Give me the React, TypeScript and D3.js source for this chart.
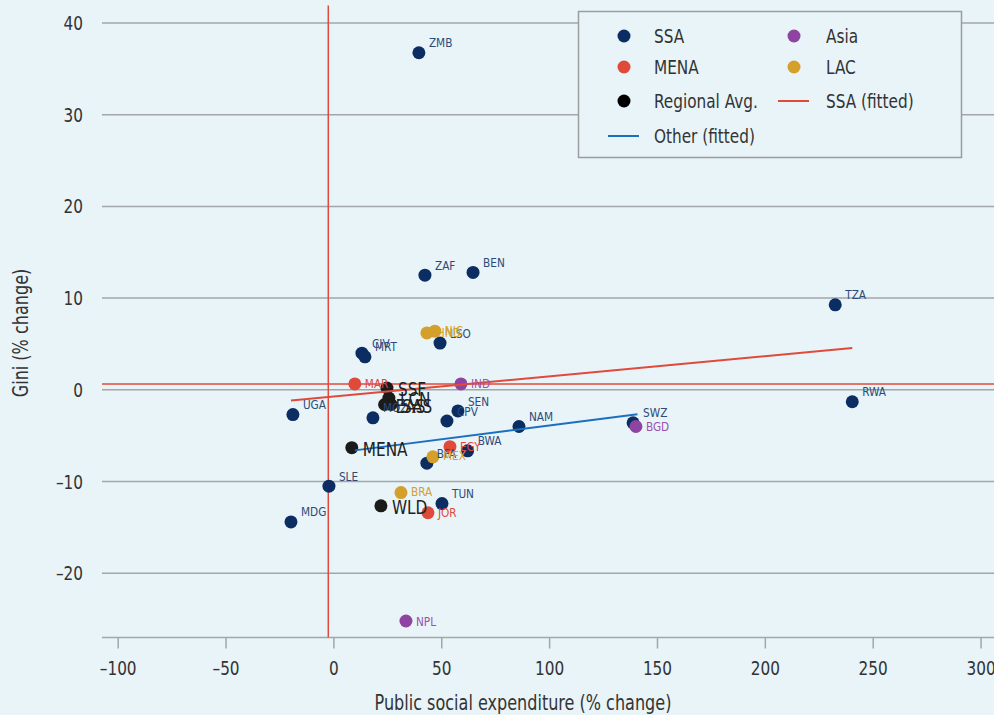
import React, { FC, useMemo } from "react";
import { scaleLinear } from "d3";

const WIDTH = 994;
const HEIGHT = 715;
const FONT =
  '"Liberation Sans Narrow", "DejaVu Sans Condensed", "Roboto Condensed", "Arial Narrow", sans-serif';

const BG = "#e8f4f8";
const GRID = "#a3a6a8";
const TEXT = "#333333";
// the original uses a condensed face; squeeze the installed one a bit
const SQUEEZE = 0.85;

// [code, public social expenditure % change, gini % change]
type Pt = [string, number, number];

const ssaPoints: Pt[] = [
  ["ZMB", 39.4, 36.75],
  ["ZAF", 42.2, 12.5],
  ["BEN", 64.5, 12.8],
  ["TZA", 232.4, 9.27],
  ["CIV", 13.0, 4.0],
  ["MRT", 14.4, 3.6],
  ["LSO", 49.2, 5.1],
  ["UGA", -19.0, -2.7],
  ["MOZ", 18.1, -3.05],
  ["SEN", 57.5, -2.3],
  ["CPV", 52.4, -3.4],
  ["NAM", 85.8, -4.0],
  ["BWA", 62.0, -6.65],
  ["BFA", 43.1, -8.0],
  ["SLE", -2.3, -10.5],
  ["TUN", 50.1, -12.4],
  ["MDG", -19.9, -14.4],
  ["SWZ", 138.7, -3.6],
  ["RWA", 240.3, -1.3],
];

const menaPoints: Pt[] = [
  ["MAR", 9.7, 0.65],
  ["EGY", 53.8, -6.2],
  ["JOR", 43.6, -13.4],
];

const asiaPoints: Pt[] = [
  ["IND", 58.9, 0.65],
  ["BGD", 140.0, -4.0],
  ["NPL", 33.4, -25.2],
];

const lacPoints: Pt[] = [
  ["HND", 43.1, 6.2],
  ["NIC", 46.8, 6.4],
  ["BRA", 31.1, -11.2],
  ["MEX", 45.9, -7.3],
];

const regionalPoints: Pt[] = [
  ["SSF", 24.6, 0.2],
  ["LCN", 25.5, -0.9],
  ["EAS", 23.5, -1.6],
  ["SAS", 26.5, -1.6],
  ["MENA", 8.3, -6.3],
  ["WLD", 21.8, -12.65],
];

const ssaFit = [
  { x: -19.9, y: -1.15 },
  { x: 240.3, y: 4.55 },
];
const otherFit = [
  { x: 9.7, y: -6.6 },
  { x: 140.7, y: -2.65 },
];

const meanX = -2.6;
const meanY = 0.65;

const xTicks = [-100, -50, 0, 50, 100, 150, 200, 250, 300];
const yTicks = [-20, -10, 0, 10, 20, 30, 40];

const COLORS = {
  ssa: "#0b2d62",
  ssaText: "#2d4b7a",
  mena: "#e04a3b",
  asia: "#8e44a0",
  lac: "#d4a02b",
  regional: "#1b1b1b",
  ssaFit: "#e04a3b",
  otherFit: "#1b6fc0",
};

const groups = [
  { points: ssaPoints, fill: COLORS.ssa, text: COLORS.ssaText, dy: -10, size: 13 },
  { points: menaPoints, fill: COLORS.mena, text: COLORS.mena, dy: 0, size: 13 },
  { points: asiaPoints, fill: COLORS.asia, text: "#9c52ad", dy: 0, size: 13 },
  { points: lacPoints, fill: COLORS.lac, text: COLORS.lac, dy: -1, size: 13 },
  { points: regionalPoints, fill: COLORS.regional, text: "#222", dy: 1, size: 20 },
];

const legendItems = [
  { label: "SSA", kind: "dot", color: COLORS.ssa, col: 0, row: 0 },
  { label: "Asia", kind: "dot", color: COLORS.asia, col: 1, row: 0 },
  { label: "MENA", kind: "dot", color: COLORS.mena, col: 0, row: 1 },
  { label: "LAC", kind: "dot", color: COLORS.lac, col: 1, row: 1 },
  { label: "Regional Avg.", kind: "dot", color: "#000", col: 0, row: 2 },
  { label: "SSA (fitted)", kind: "line", color: COLORS.ssaFit, col: 1, row: 2 },
  { label: "Other (fitted)", kind: "line", color: COLORS.otherFit, col: 0, row: 3 },
];

interface CTextProps {
  x: number;
  y: number;
  size: number;
  fill: string;
  anchor?: "start" | "middle" | "end";
  rotate?: number;
  squeeze?: number;
  children: React.ReactNode;
}

const CText: FC<CTextProps> = ({
  x,
  y,
  size,
  fill,
  anchor = "start",
  rotate = 0,
  squeeze = SQUEEZE,
  children,
}) => (
  <text
    transform={`translate(${x},${y}) rotate(${rotate}) scale(${squeeze},1)`}
    dy="0.35em"
    textAnchor={anchor}
    fontSize={size}
    fill={fill}
  >
    {children}
  </text>
);

const Legend: FC = () => {
  const rowY = [36, 67, 101, 136];
  const colX = [624, 794];
  const textX = [654, 826];
  return (
    <g>
      <rect x={578.5} y={11.5} width={383} height={146} fill={BG} stroke="#9a9c9e" strokeWidth={1.5} />
      {legendItems.map((d) => (
        <g key={d.label}>
          {d.kind === "dot" ? (
            <circle cx={colX[d.col]} cy={rowY[d.row]} r={6.5} fill={d.color} />
          ) : (
            <line
              x1={colX[d.col] - 16}
              x2={colX[d.col] + 15}
              y1={rowY[d.row]}
              y2={rowY[d.row]}
              stroke={d.color}
              strokeWidth={2}
            />
          )}
          <CText x={textX[d.col]} y={rowY[d.row]} size={20} fill={TEXT}>
            {d.label}
          </CText>
        </g>
      ))}
    </g>
  );
};

const fmt = (t: number) => (t < 0 ? `\u2013${Math.abs(t)}` : `${t}`);

export default function App() {
  const x = useMemo(() => scaleLinear().domain([-107.5, 306]).range([102, 994]), []);
  const y = useMemo(() => scaleLinear().domain([-27, 42.5]).range([637.5, 0]), []);

  const axisY = y(-27);

  return (
    <svg
      width={WIDTH}
      height={HEIGHT}
      style={{ position: "absolute", left: 0, top: 0, background: BG }}
      fontFamily={FONT}
    >
      <rect width={WIDTH} height={HEIGHT} fill={BG} />

      {yTicks.map((t) => (
        <g key={t}>
          <line x1={102} x2={WIDTH} y1={y(t)} y2={y(t)} stroke={GRID} strokeWidth={1.5} />
          <CText x={83} y={y(t)} size={20} fill={TEXT} anchor="end">
            {fmt(t)}
          </CText>
        </g>
      ))}

      <line x1={102} x2={WIDTH} y1={axisY} y2={axisY} stroke={GRID} strokeWidth={1.5} />
      {xTicks.map((t) => (
        <g key={t}>
          <line x1={x(t)} x2={x(t)} y1={axisY} y2={axisY + 11} stroke={GRID} strokeWidth={1.5} />
          <CText x={x(t)} y={axisY + 30} size={20} fill={TEXT} anchor="middle">
            {fmt(t)}
          </CText>
        </g>
      ))}

      <CText x={523} y={703} size={21} fill={TEXT} anchor="middle">
        Public social expenditure (% change)
      </CText>
      <CText x={21} y={333} size={21} fill={TEXT} anchor="middle" rotate={-90}>
        Gini (% change)
      </CText>

      {/* mean lines */}
      <line x1={102} x2={WIDTH} y1={y(meanY)} y2={y(meanY)} stroke={COLORS.mena} strokeWidth={1.5} />
      <line x1={x(meanX)} x2={x(meanX)} y1={y(41.9)} y2={axisY} stroke={COLORS.mena} strokeWidth={1.5} />

      {groups.map((g, gi) =>
        g.points.map(([code, px, py]) => (
          <circle key={`${gi}-${code}`} cx={x(px)} cy={y(py)} r={6.5} fill={g.fill} />
        ))
      )}

      <line
        x1={x(ssaFit[0].x)}
        y1={y(ssaFit[0].y)}
        x2={x(ssaFit[1].x)}
        y2={y(ssaFit[1].y)}
        stroke={COLORS.ssaFit}
        strokeWidth={2}
      />
      <line
        x1={x(otherFit[0].x)}
        y1={y(otherFit[0].y)}
        x2={x(otherFit[1].x)}
        y2={y(otherFit[1].y)}
        stroke={COLORS.otherFit}
        strokeWidth={2}
      />

      {groups.map((g, gi) =>
        g.points.map(([code, px, py]) => (
          <CText
            key={`l-${gi}-${code}`}
            x={x(px) + (g.size > 13 ? 11 : 10)}
            y={y(py) + g.dy}
            size={g.size}
            fill={g.text}
            squeeze={g.size > 13 ? SQUEEZE : 0.9}
          >
            {code}
          </CText>
        ))
      )}

      <Legend />
    </svg>
  );
}
